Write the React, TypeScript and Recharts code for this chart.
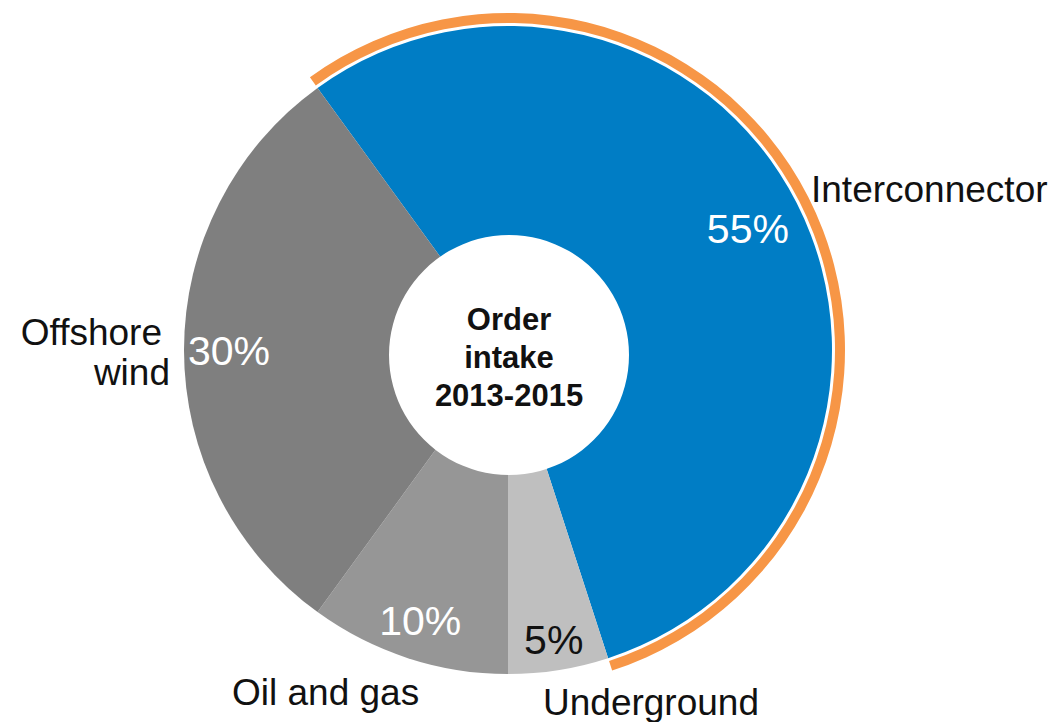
import { PieChart, Pie, Cell } from "recharts"

const categories = ["Interconnector", "Underground", "Oil and gas", "Offshore wind"]
const shares = [55, 5, 10, 30]
const centerTitle = ["Order", "intake", "2013-2015"]
const highlighted = "Interconnector"

const sliceColors: Record<string, string> = {
  Interconnector: "#007dc5",
  Underground: "#bfbfbf",
  "Oil and gas": "#969696",
  "Offshore wind": "#7f7f7f",
}

const data = categories.map((name, i) => ({ name, value: shares[i] }))

// orange ring over the highlighted slice, rest left empty
const ringData = categories.map((name, i) => ({ name, value: shares[i] }))

const holeData = [{ name: "hole", value: 1 }]

const font = "'Liberation Sans', Arial, sans-serif"

// where the % sits along the slice radius, and how the category name is placed
const pctRadius: Record<string, number> = {
  Interconnector: 0.831,
  Underground: 0.902,
  "Oil and gas": 0.877,
  "Offshore wind": 0.861,
}
const pctColor: Record<string, string> = {
  Interconnector: "#fff",
  Underground: "#111",
  "Oil and gas": "#fff",
  "Offshore wind": "#fff",
}
const namePlace: Record<string, { dx: number[]; dy: number[]; anchor: string; lines: string[] }> = {
  Interconnector: { dx: [303], dy: [-148], anchor: "start", lines: ["Interconnector"] },
  Underground: { dx: [35], dy: [365], anchor: "start", lines: ["Underground"] },
  "Oil and gas": { dx: [-276], dy: [355], anchor: "start", lines: ["Oil and gas"] },
  "Offshore wind": { dx: [-346, -338], dy: [-5, 35], anchor: "end", lines: ["Offshore", "wind"] },
}

const RAD = Math.PI / 180

function renderLabel(props: any) {
  const { cx, cy, midAngle, outerRadius, name, value } = props
  const r = outerRadius * pctRadius[name]
  const x = cx + r * Math.cos(-midAngle * RAD)
  const y = cy + r * Math.sin(-midAngle * RAD)
  const place = namePlace[name]
  return (
    <g>
      <text
        x={x}
        y={y + 15}
        textAnchor="middle"
        fontFamily={font}
        fontSize={41}
        fill={pctColor[name]}
      >
        {value}%
      </text>
      {place.lines.map((line, i) => (
        <text
          key={line}
          x={cx + place.dx[i]}
          y={cy + place.dy[i]}
          textAnchor={place.anchor as any}
          fontFamily={font}
          fontSize={37}
          fill="#111"
        >
          {line}
        </text>
      ))}
    </g>
  )
}

function renderCenter(props: any) {
  const { cx, cy } = props
  return (
    <g>
      {centerTitle.map((line, i) => (
        <text
          key={line}
          x={cx}
          y={cy - 25 + i * 38}
          textAnchor="middle"
          fontFamily={font}
          fontSize={31}
          fontWeight="bold"
          fill="#111"
        >
          {line}
        </text>
      ))}
    </g>
  )
}

export default function App() {
  return (
    <div style={{ position: "absolute", left: 0, top: 0, background: "#fff" }}>
      <PieChart width={1052} height={722} margin={{ top: 0, right: 0, bottom: 0, left: 0 }}>
        <Pie
          data={ringData}
          dataKey="value"
          cx={508}
          cy={350}
          innerRadius={327}
          outerRadius={337}
          startAngle={126}
          endAngle={-234}
          stroke="none"
          isAnimationActive={false}
        >
          {ringData.map((d) => (
            <Cell key={d.name} fill={d.name === highlighted ? "#f79646" : "none"} />
          ))}
        </Pie>
        <Pie
          data={data}
          dataKey="value"
          cx={508}
          cy={350}
          innerRadius={0}
          outerRadius={324}
          startAngle={126}
          endAngle={-234}
          stroke="none"
          label={renderLabel}
          labelLine={false}
          isAnimationActive={false}
        >
          {data.map((d) => (
            <Cell key={d.name} fill={sliceColors[d.name]} />
          ))}
        </Pie>
        <Pie
          data={holeData}
          dataKey="value"
          cx={509}
          cy={355}
          innerRadius={0}
          outerRadius={120}
          stroke="none"
          fill="#fff"
          label={renderCenter}
          labelLine={false}
          isAnimationActive={false}
        />
      </PieChart>
    </div>
  )
}
